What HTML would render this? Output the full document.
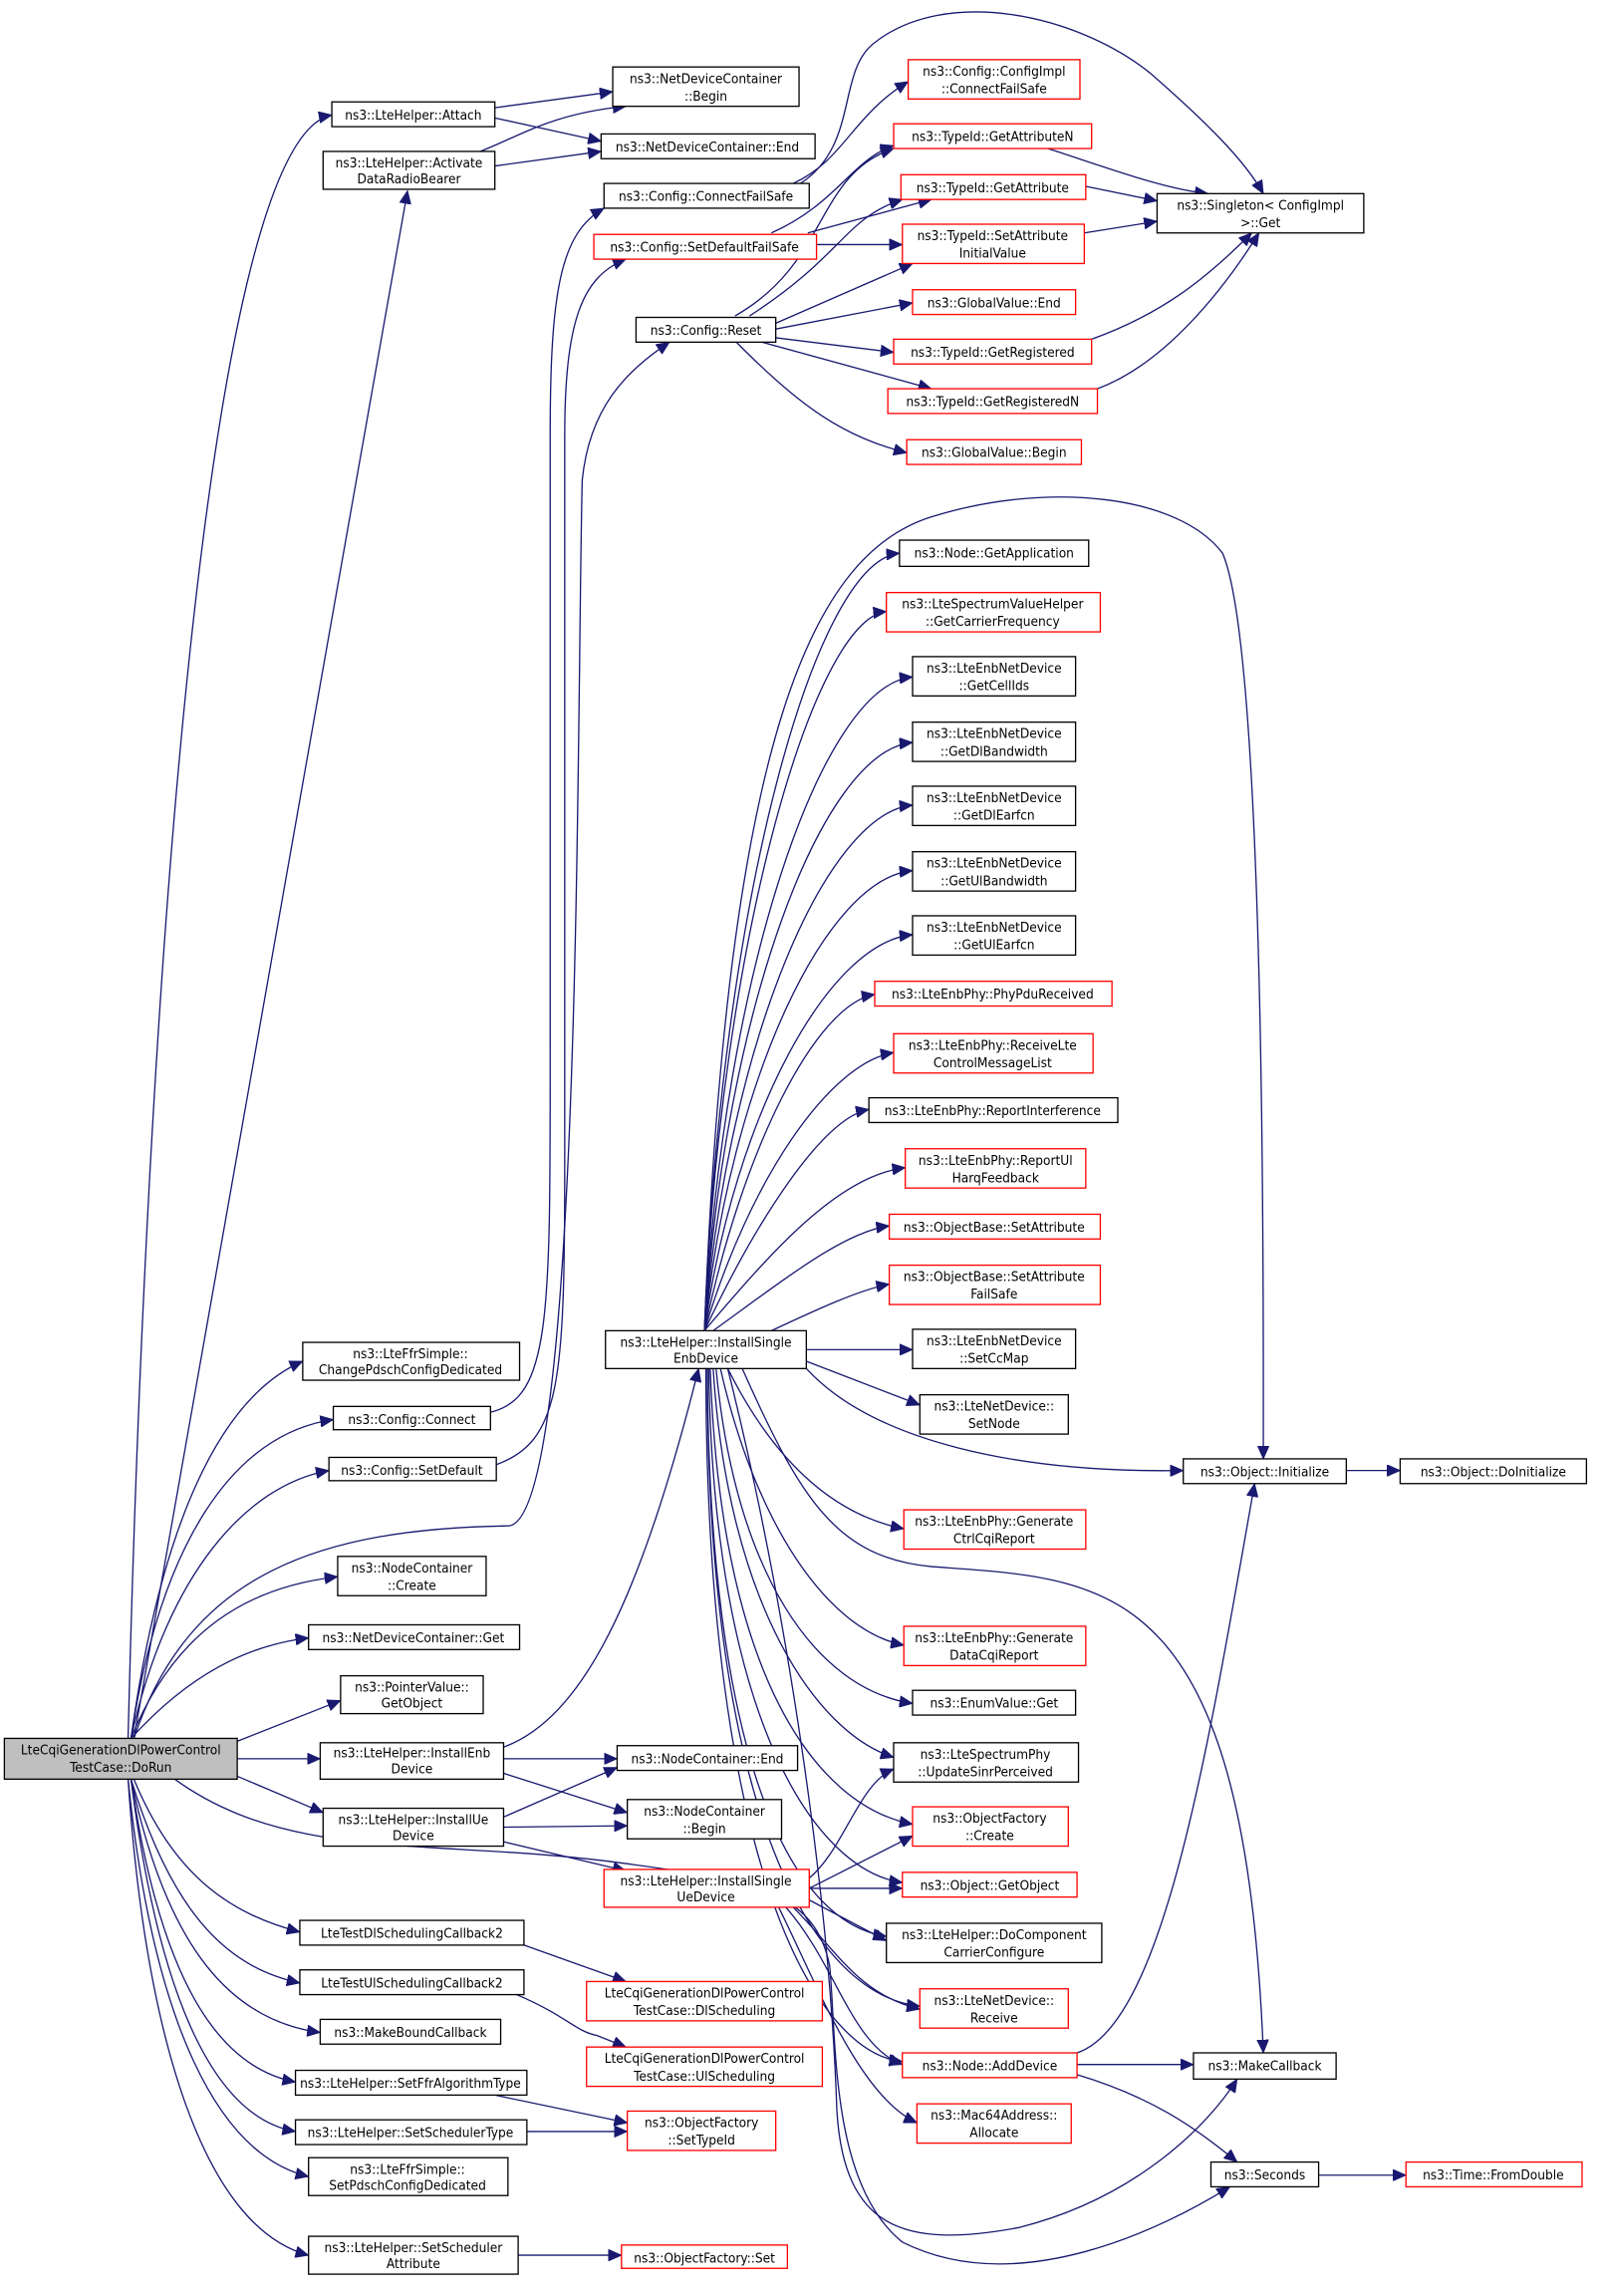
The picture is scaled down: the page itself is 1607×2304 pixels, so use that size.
<!DOCTYPE html>
<html><head><meta charset="utf-8"><style>
html,body{margin:0;padding:0;background:#fff;}
svg{display:block;}
text{font-family:"DejaVu Sans Condensed","DejaVu Sans","Liberation Sans",sans-serif;font-stretch:condensed;font-size:9.3px;fill:#000;text-anchor:middle;}
.n{fill:#fff;stroke:#000;stroke-width:0.9;}
.r{fill:#fff;stroke:#ff0000;stroke-width:0.9;}
.g{fill:#bfbfbf;stroke:#000;stroke-width:0.9;}
path.e{fill:none;stroke:#191970;stroke-width:0.9;marker-end:url(#a);}
</style></head><body>
<svg width="1607" height="2304" viewBox="0 0 1100 1577" preserveAspectRatio="none" xmlns="http://www.w3.org/2000/svg">
<defs><marker id="a" markerUnits="userSpaceOnUse" markerWidth="10" markerHeight="8" refX="9" refY="4" orient="auto"><path d="M0,0 L9,4 L0,8 z" fill="#191970" stroke="#191970" stroke-width="0.5"/></marker></defs>

<!-- edges -->
<g>
<path class="e" d="M88,1194 C100,700 140,95 228,79"/>
<path class="e" d="M92,1194 L280,131"/>
<path class="e" d="M90,1194 C110,1050 150,960 208,935"/>
<path class="e" d="M90,1194 C110,1060 160,985 229,975"/>
<path class="e" d="M90,1194 C115,1080 170,1020 226,1010"/>
<path class="e" d="M92,1194 C130,1080 220,1050 350,1048 C400,1040 396,500 400,330 C405,280 430,255 460,235"/>
<path class="e" d="M337,970 C380,960 378,900 378,700 L378,300 C378,200 385,160 415,143"/>
<path class="e" d="M341,1006 C385,990 388,950 388,800 L388,300 C388,220 400,190 430,178"/>
<path class="e" d="M90,1194 C120,1120 170,1090 232,1083"/>
<path class="e" d="M90,1194 C130,1150 170,1130 212,1125"/>
<path class="e" d="M163,1196 L234,1168"/>
<path class="e" d="M163,1208 L220,1208"/>
<path class="e" d="M163,1220 L222,1245"/>
<path class="e" d="M92,1222 C120,1290 160,1315 206,1327"/>
<path class="e" d="M90,1222 C120,1320 160,1352 206,1362"/>
<path class="e" d="M90,1222 C115,1340 160,1388 220,1396"/>
<path class="e" d="M90,1222 C110,1360 150,1420 203,1430"/>
<path class="e" d="M90,1222 C110,1380 150,1455 203,1464"/>
<path class="e" d="M88,1222 C105,1390 150,1480 212,1495"/>
<path class="e" d="M88,1222 C100,1400 140,1530 212,1549"/>
<path class="e" d="M120,1222 C200,1280 300,1262 430,1280 C520,1292 560,1300 570,1350 C575,1400 570,1500 620,1540 C700,1580 800,1530 845,1502"/>

<path class="e" d="M340,74 L421,63"/>
<path class="e" d="M340,81 L413,97"/>
<path class="e" d="M330,104 C360,92 380,78 430,73"/>
<path class="e" d="M340,114 L413,104"/>
<path class="e" d="M545,126 C580,110 585,80 624,56"/>
<path class="e" d="M550,126 C590,100 575,50 600,30 C650,-10 740,10 790,50 C830,85 855,110 868,133"/>
<path class="e" d="M530,160 C575,140 585,110 614,100"/>
<path class="e" d="M555,160 L640,137"/>
<path class="e" d="M561,168 L620,168"/>
<path class="e" d="M505,217 C570,180 560,120 614,102"/>
<path class="e" d="M515,217 C580,175 580,150 620,137"/>
<path class="e" d="M533,222 L627,181"/>
<path class="e" d="M533,226 L627,208"/>
<path class="e" d="M533,232 L614,242"/>
<path class="e" d="M520,234 L640,267"/>
<path class="e" d="M505,234 C550,280 580,300 623,311"/>
<path class="e" d="M720,102 C760,115 800,130 830,133"/>
<path class="e" d="M746,128 L795,138"/>
<path class="e" d="M745,160 L795,152"/>
<path class="e" d="M750,233 C800,215 830,190 860,160"/>
<path class="e" d="M754,267 C800,250 840,200 865,160"/>

<path class="e" d="M484,914 C495,620 560,385 618,380"/>
<path class="e" d="M484,914 C495,642 560,425 609,420"/>
<path class="e" d="M484,914 C497,667 565,470 627,465"/>
<path class="e" d="M484,914 C498,692 565,515 627,510"/>
<path class="e" d="M484,914 C500,715 568,558 627,553"/>
<path class="e" d="M484,914 C502,740 568,603 627,598"/>
<path class="e" d="M484,914 C505,764 570,647 627,642"/>
<path class="e" d="M484,914 C510,790 560,690 601,683"/>
<path class="e" d="M484,914 C515,810 570,730 614,723"/>
<path class="e" d="M484,914 C520,838 565,768 597,762"/>
<path class="e" d="M484,914 C530,860 575,808 622,802"/>
<path class="e" d="M490,914 C540,878 580,846 611,842"/>
<path class="e" d="M530,914 C560,900 590,886 611,882"/>
<path class="e" d="M554,927 L627,927"/>
<path class="e" d="M554,935 L632,965"/>
<path class="e" d="M554,940 C600,990 700,1012 813,1010"/>
<path class="e" d="M484,914 C500,500 560,380 640,355 C720,330 810,340 840,380 C870,450 868,900 868,1002"/>
<path class="e" d="M500,940 C530,1000 570,1040 621,1050"/>
<path class="e" d="M495,940 C520,1050 570,1120 621,1130"/>
<path class="e" d="M492,940 C505,1080 560,1160 627,1170"/>
<path class="e" d="M490,940 C500,1100 560,1190 614,1207"/>
<path class="e" d="M488,940 C495,1150 560,1240 627,1253"/>
<path class="e" d="M487,940 C490,1180 560,1285 620,1293"/>
<path class="e" d="M486,940 C487,1200 540,1320 609,1330"/>
<path class="e" d="M486,940 C486,1250 560,1370 632,1378"/>
<path class="e" d="M485,940 C485,1280 560,1410 620,1416"/>
<path class="e" d="M510,940 C550,1030 575,1070 640,1076 C760,1085 855,1080 868,1410"/>
<path class="e" d="M500,940 C540,1100 570,1300 575,1450 C580,1530 620,1545 700,1530 C780,1510 830,1460 850,1428"/>

<path class="e" d="M346,1200 C400,1180 440,1100 480,940"/>
<path class="e" d="M346,1208 L424,1208"/>
<path class="e" d="M346,1218 L431,1245"/>
<path class="e" d="M346,1248 L424,1214"/>
<path class="e" d="M346,1255 L431,1254"/>
<path class="e" d="M346,1265 L430,1285"/>
<path class="e" d="M556,1290 C580,1270 590,1225 614,1215"/>
<path class="e" d="M556,1297 L627,1261"/>
<path class="e" d="M556,1297 L620,1297"/>
<path class="e" d="M556,1305 L609,1333"/>
<path class="e" d="M545,1310 C575,1340 590,1370 632,1380"/>
<path class="e" d="M540,1310 C575,1350 585,1405 620,1418"/>
<path class="e" d="M535,1310 C560,1360 590,1440 630,1458"/>
<path class="e" d="M360,1336 L430,1361"/>
<path class="e" d="M355,1370 C390,1385 395,1395 410,1398 C420,1402 425,1404 430,1406"/>
<path class="e" d="M340,1439 L431,1458"/>
<path class="e" d="M362,1464 L431,1464"/>
<path class="e" d="M356,1549 L427,1549"/>
<path class="e" d="M740,1410 C800,1390 830,1200 862,1019"/>
<path class="e" d="M740,1418 L820,1418"/>
<path class="e" d="M740,1425 C790,1440 820,1460 850,1485"/>
<path class="e" d="M906,1494 L966,1494"/>
<path class="e" d="M925,1010 L962,1010"/>
</g>

<!-- nodes -->
<g>
<rect class="g" x="3" y="1194" width="160" height="28"/><text x="83" y="1205">LteCqiGenerationDlPowerControl</text><text x="83" y="1217">TestCase::DoRun</text>

<rect class="n" x="228" y="70" width="112" height="17"/><text x="284" y="82">ns3::LteHelper::Attach</text>
<rect class="n" x="222" y="104" width="118" height="26"/><text x="281" y="115">ns3::LteHelper::Activate</text><text x="281" y="126">DataRadioBearer</text>
<rect class="n" x="208" y="922" width="149" height="26"/><text x="282" y="933">ns3::LteFfrSimple::</text><text x="282" y="944">ChangePdschConfigDedicated</text>
<rect class="n" x="229" y="966" width="108" height="16"/><text x="283" y="978">ns3::Config::Connect</text>
<rect class="n" x="226" y="1001" width="115" height="16"/><text x="283" y="1013">ns3::Config::SetDefault</text>
<rect class="n" x="232" y="1069" width="102" height="27"/><text x="283" y="1080">ns3::NodeContainer</text><text x="283" y="1092">::Create</text>
<rect class="n" x="212" y="1116" width="145" height="17"/><text x="284" y="1128">ns3::NetDeviceContainer::Get</text>
<rect class="n" x="234" y="1151" width="98" height="26"/><text x="283" y="1162">ns3::PointerValue::</text><text x="283" y="1173">GetObject</text>
<rect class="n" x="220" y="1197" width="126" height="25"/><text x="283" y="1207">ns3::LteHelper::InstallEnb</text><text x="283" y="1218">Device</text>
<rect class="n" x="222" y="1242" width="124" height="26"/><text x="284" y="1253">ns3::LteHelper::InstallUe</text><text x="284" y="1264">Device</text>
<rect class="n" x="206" y="1319" width="154" height="17"/><text x="283" y="1331">LteTestDlSchedulingCallback2</text>
<rect class="n" x="206" y="1353" width="154" height="17"/><text x="283" y="1365">LteTestUlSchedulingCallback2</text>
<rect class="n" x="220" y="1387" width="124" height="17"/><text x="282" y="1399">ns3::MakeBoundCallback</text>
<rect class="n" x="203" y="1422" width="159" height="17"/><text x="282" y="1434">ns3::LteHelper::SetFfrAlgorithmType</text>
<rect class="n" x="203" y="1456" width="159" height="17"/><text x="282" y="1468">ns3::LteHelper::SetSchedulerType</text>
<rect class="n" x="212" y="1482" width="137" height="26"/><text x="280" y="1493">ns3::LteFfrSimple::</text><text x="280" y="1504">SetPdschConfigDedicated</text>
<rect class="n" x="212" y="1536" width="144" height="26"/><text x="284" y="1547">ns3::LteHelper::SetScheduler</text><text x="284" y="1558">Attribute</text>

<rect class="n" x="421" y="46" width="128" height="27"/><text x="485" y="57">ns3::NetDeviceContainer</text><text x="485" y="69">::Begin</text>
<rect class="n" x="413" y="92" width="147" height="17"/><text x="486" y="104">ns3::NetDeviceContainer::End</text>
<rect class="n" x="415" y="126" width="141" height="17"/><text x="485" y="138">ns3::Config::ConnectFailSafe</text>
<rect class="r" x="408" y="161" width="153" height="17"/><text x="484" y="173">ns3::Config::SetDefaultFailSafe</text>
<rect class="n" x="437" y="218" width="96" height="17"/><text x="485" y="230">ns3::Config::Reset</text>
<rect class="n" x="416" y="914" width="138" height="26"/><text x="485" y="925">ns3::LteHelper::InstallSingle</text><text x="485" y="936">EnbDevice</text>
<rect class="n" x="424" y="1199" width="124" height="17"/><text x="486" y="1211">ns3::NodeContainer::End</text>
<rect class="n" x="431" y="1236" width="106" height="27"/><text x="484" y="1247">ns3::NodeContainer</text><text x="484" y="1259">::Begin</text>
<rect class="r" x="415" y="1284" width="141" height="26"/><text x="485" y="1295">ns3::LteHelper::InstallSingle</text><text x="485" y="1306">UeDevice</text>
<rect class="r" x="403" y="1361" width="162" height="27"/><text x="484" y="1372">LteCqiGenerationDlPowerControl</text><text x="484" y="1384">TestCase::DlScheduling</text>
<rect class="r" x="403" y="1406" width="162" height="27"/><text x="484" y="1417">LteCqiGenerationDlPowerControl</text><text x="484" y="1429">TestCase::UlScheduling</text>
<rect class="r" x="431" y="1450" width="102" height="27"/><text x="482" y="1461">ns3::ObjectFactory</text><text x="482" y="1473">::SetTypeId</text>
<rect class="r" x="427" y="1542" width="114" height="16"/><text x="484" y="1554">ns3::ObjectFactory::Set</text>

<rect class="r" x="624" y="41" width="118" height="27"/><text x="683" y="52">ns3::Config::ConfigImpl</text><text x="683" y="64">::ConnectFailSafe</text>
<rect class="r" x="614" y="85" width="136" height="17"/><text x="682" y="97">ns3::TypeId::GetAttributeN</text>
<rect class="r" x="619" y="120" width="127" height="17"/><text x="682" y="132">ns3::TypeId::GetAttribute</text>
<rect class="r" x="620" y="154" width="125" height="27"/><text x="682" y="165">ns3::TypeId::SetAttribute</text><text x="682" y="177">InitialValue</text>
<rect class="r" x="627" y="199" width="112" height="17"/><text x="683" y="211">ns3::GlobalValue::End</text>
<rect class="r" x="614" y="233" width="136" height="17"/><text x="682" y="245">ns3::TypeId::GetRegistered</text>
<rect class="r" x="610" y="267" width="144" height="17"/><text x="682" y="279">ns3::TypeId::GetRegisteredN</text>
<rect class="r" x="623" y="302" width="120" height="17"/><text x="683" y="314">ns3::GlobalValue::Begin</text>
<rect class="n" x="795" y="133" width="142" height="27"/><text x="866" y="144">ns3::Singleton&lt; ConfigImpl</text><text x="866" y="156">&gt;::Get</text>

<rect class="n" x="618" y="371" width="130" height="18"/><text x="683" y="383">ns3::Node::GetApplication</text>
<rect class="r" x="609" y="407" width="147" height="27"/><text x="682" y="418">ns3::LteSpectrumValueHelper</text><text x="682" y="430">::GetCarrierFrequency</text>
<rect class="n" x="627" y="451" width="112" height="27"/><text x="683" y="462">ns3::LteEnbNetDevice</text><text x="683" y="474">::GetCellIds</text>
<rect class="n" x="627" y="496" width="112" height="27"/><text x="683" y="507">ns3::LteEnbNetDevice</text><text x="683" y="519">::GetDlBandwidth</text>
<rect class="n" x="627" y="540" width="112" height="27"/><text x="683" y="551">ns3::LteEnbNetDevice</text><text x="683" y="563">::GetDlEarfcn</text>
<rect class="n" x="627" y="585" width="112" height="27"/><text x="683" y="596">ns3::LteEnbNetDevice</text><text x="683" y="608">::GetUlBandwidth</text>
<rect class="n" x="627" y="629" width="112" height="27"/><text x="683" y="640">ns3::LteEnbNetDevice</text><text x="683" y="652">::GetUlEarfcn</text>
<rect class="r" x="601" y="674" width="163" height="17"/><text x="682" y="686">ns3::LteEnbPhy::PhyPduReceived</text>
<rect class="r" x="614" y="710" width="137" height="27"/><text x="682" y="721">ns3::LteEnbPhy::ReceiveLte</text><text x="682" y="733">ControlMessageList</text>
<rect class="n" x="597" y="754" width="171" height="17"/><text x="682" y="766">ns3::LteEnbPhy::ReportInterference</text>
<rect class="r" x="622" y="789" width="124" height="27"/><text x="684" y="800">ns3::LteEnbPhy::ReportUl</text><text x="684" y="812">HarqFeedback</text>
<rect class="r" x="611" y="834" width="145" height="17"/><text x="683" y="846">ns3::ObjectBase::SetAttribute</text>
<rect class="r" x="611" y="869" width="145" height="27"/><text x="683" y="880">ns3::ObjectBase::SetAttribute</text><text x="683" y="892">FailSafe</text>
<rect class="n" x="627" y="913" width="112" height="27"/><text x="683" y="924">ns3::LteEnbNetDevice</text><text x="683" y="936">::SetCcMap</text>
<rect class="n" x="632" y="958" width="102" height="27"/><text x="683" y="969">ns3::LteNetDevice::</text><text x="683" y="981">SetNode</text>
<rect class="r" x="621" y="1037" width="125" height="27"/><text x="683" y="1048">ns3::LteEnbPhy::Generate</text><text x="683" y="1060">CtrlCqiReport</text>
<rect class="r" x="621" y="1117" width="125" height="27"/><text x="683" y="1128">ns3::LteEnbPhy::Generate</text><text x="683" y="1140">DataCqiReport</text>
<rect class="n" x="627" y="1161" width="112" height="17"/><text x="683" y="1173">ns3::EnumValue::Get</text>
<rect class="n" x="614" y="1197" width="127" height="27"/><text x="677" y="1208">ns3::LteSpectrumPhy</text><text x="677" y="1220">::UpdateSinrPerceived</text>
<rect class="r" x="627" y="1241" width="107" height="27"/><text x="680" y="1252">ns3::ObjectFactory</text><text x="680" y="1264">::Create</text>
<rect class="r" x="620" y="1286" width="120" height="17"/><text x="680" y="1298">ns3::Object::GetObject</text>
<rect class="n" x="609" y="1321" width="148" height="27"/><text x="683" y="1332">ns3::LteHelper::DoComponent</text><text x="683" y="1344">CarrierConfigure</text>
<rect class="r" x="632" y="1366" width="102" height="27"/><text x="683" y="1377">ns3::LteNetDevice::</text><text x="683" y="1389">Receive</text>
<rect class="r" x="620" y="1410" width="120" height="17"/><text x="680" y="1422">ns3::Node::AddDevice</text>
<rect class="r" x="630" y="1445" width="106" height="27"/><text x="683" y="1456">ns3::Mac64Address::</text><text x="683" y="1468">Allocate</text>

<rect class="n" x="813" y="1002" width="112" height="17"/><text x="869" y="1014">ns3::Object::Initialize</text>
<rect class="n" x="820" y="1410" width="98" height="18"/><text x="869" y="1422">ns3::MakeCallback</text>
<rect class="n" x="832" y="1485" width="74" height="17"/><text x="869" y="1497">ns3::Seconds</text>
<rect class="n" x="962" y="1002" width="128" height="17"/><text x="1026" y="1014">ns3::Object::DoInitialize</text>
<rect class="r" x="966" y="1485" width="121" height="17"/><text x="1026" y="1497">ns3::Time::FromDouble</text>
</g>
</svg>
</body></html>
